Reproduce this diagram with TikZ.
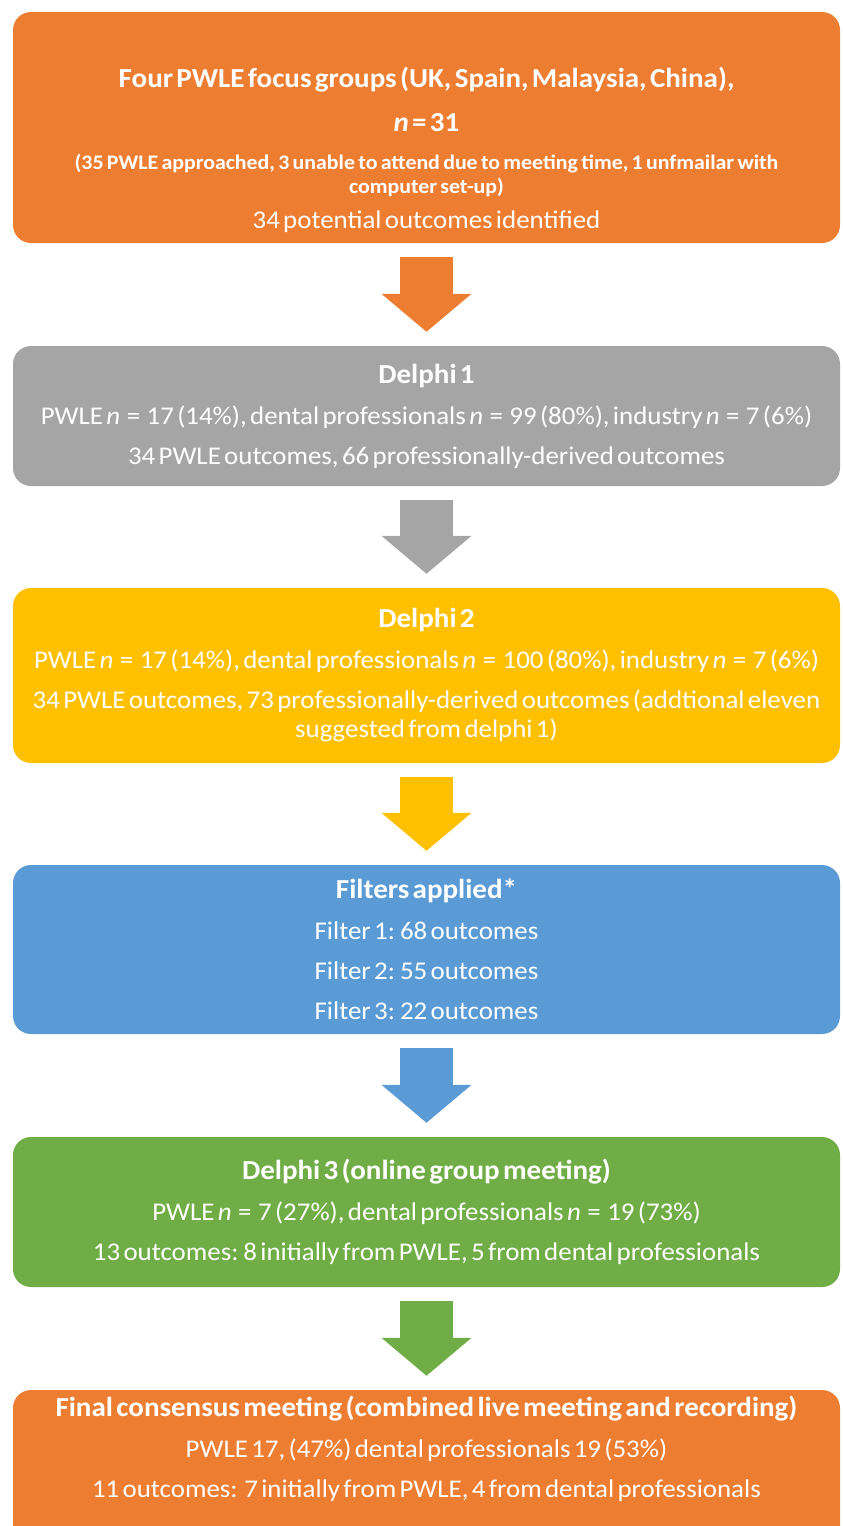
\documentclass[tikz,border=0pt]{standalone}
\usepackage{fontspec}
\setmainfont{Carlito}[FakeStretch=1.055]
\usetikzlibrary{arrows.meta}
\definecolor{stageorange}{HTML}{ED7D31}
\definecolor{stagegrey}{HTML}{A5A5A5}
\definecolor{stageyellow}{HTML}{FFC000}
\definecolor{stageblue}{HTML}{5B9BD5}
\definecolor{stagegreen}{HTML}{70AD47}
\newcommand{\headtext}{\fontsize{27.5}{29}\bfseries\selectfont}
\newcommand{\bodytext}{\fontsize{25.5}{29}\selectfont}
\newcommand{\notetext}{\fontsize{20.7}{24}\bfseries\selectfont}
\newcommand{\ncount}[1]{\textit{n}\hspace{6.5pt}=\hspace{6.5pt}#1}
\setlength{\parskip}{0pt}
\begin{document}
\begin{tikzpicture}[x=1pt,y=-1pt]
        \tikzstyle{stage}=[rectangle,rounded corners=18pt,text=white,minimum width=827pt,text width=800pt,align=center,inner sep=0pt]
        \tikzstyle{flow}=[draw,line width=53pt,-{Triangle[width=88pt,length=38pt]},shorten <=14pt,shorten >=14pt]
        \useasboundingbox (0,0) rectangle (843,1526);

         \node [stage,fill=stageorange,minimum height=231pt] (focus) at (426.5,127.5) {%
           {\headtext \rule{0pt}{66pt}Four PWLE focus groups (UK, Spain, Malaysia, China),\par}\vspace{15pt}
           {\headtext \textit{n} = 31\par}\vspace{14pt}
           {\notetext (35 PWLE approached, 3 unable to attend due to meeting time, 1 unfmailar with\\ computer set-up)\par}\vspace{6pt}
           {\bodytext 34 potential outcomes identified\par}};
         \node [stage,fill=stagegrey,minimum height=140pt] (delphi1) at (426.5,416) {%
           {\headtext Delphi 1\par}\vspace{12pt}
           {\bodytext PWLE \ncount{17} (14\%), dental professionals \ncount{99} (80\%), industry \ncount{7} (6\%)\par}\vspace{11pt}
           {\bodytext 34 PWLE outcomes, 66 professionally-derived outcomes\par}};
         \node [stage,fill=stageyellow,minimum height=175pt] (delphi2) at (426.5,675.5) {%
           {\headtext Delphi 2\par}\vspace{12pt}
           {\bodytext PWLE \ncount{17} (14\%), dental professionals \ncount{100} (80\%), industry \ncount{7} (6\%)\par}\vspace{11pt}
           {\bodytext 34 PWLE outcomes, 73 professionally-derived outcomes (addtional eleven\\ suggested from delphi 1)\par}};
         \node [stage,fill=stageblue,minimum height=169pt] (filters) at (426.5,949.5) {%
           {\headtext Filters applied*\par}\vspace{12pt}
           {\bodytext Filter 1: 68 outcomes\par}\vspace{11pt}
           {\bodytext Filter 2: 55 outcomes\par}\vspace{11pt}
           {\bodytext Filter 3: 22 outcomes\par}};
         \node [stage,fill=stagegreen,minimum height=150pt] (delphi3) at (426.5,1212) {%
           {\headtext Delphi 3 (online group meeting)\par}\vspace{12pt}
           {\bodytext PWLE \ncount{7} (27\%), dental professionals \ncount{19} (73\%)\par}\vspace{11pt}
           {\bodytext 13 outcomes: 8 initially from PWLE, 5 from dental professionals\par}};
         \node [stage,fill=stageorange,minimum height=170pt] (final) at (426.5,1475) {%
           {\headtext Final consensus meeting (combined live meeting and recording)\par}\vspace{12pt}
           {\bodytext PWLE 17, (47\%) dental professionals 19 (53\%)\par}\vspace{11pt}
           {\bodytext 11 outcomes:\ \ 7 initially from PWLE, 4 from dental professionals\par}\vspace{52pt}};

         \path[flow,color=stageorange] (focus) edge (delphi1);
         \path[flow,color=stagegrey] (delphi1) edge (delphi2);
         \path[flow,color=stageyellow] (delphi2) edge (filters);
         \path[flow,color=stageblue] (filters) edge (delphi3);
         \path[flow,color=stagegreen] (delphi3) edge (final);
\end{tikzpicture}
\end{document}
